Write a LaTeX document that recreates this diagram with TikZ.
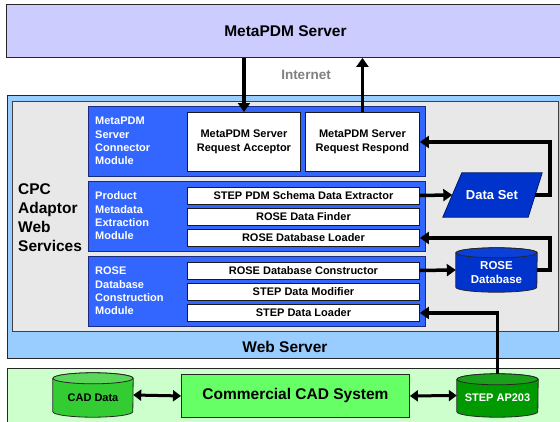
\documentclass[tikz,border=0pt]{standalone}
\usepackage{fontspec}
\setmainfont{Liberation Sans}
\usetikzlibrary{arrows.meta,calc}
\definecolor{srvfill}{HTML}{CCCCFF}
\definecolor{webfill}{HTML}{99CCFF}
\definecolor{grayfill}{HTML}{E8E8E8}
\definecolor{modfill}{HTML}{3366FF}
\definecolor{modline}{HTML}{1A2A80}
\definecolor{dsfill}{HTML}{0033CC}
\definecolor{dsline}{HTML}{001A66}
\definecolor{rosetop}{HTML}{0A3FD8}
\definecolor{greenbg}{HTML}{CCFFCC}
\definecolor{cadbody}{HTML}{33CC33}
\definecolor{cadtop}{HTML}{5AD65A}
\definecolor{ccsfill}{HTML}{66FF66}
\definecolor{stepbody}{HTML}{009900}
\definecolor{steptop}{HTML}{1AA01A}
\definecolor{netgray}{HTML}{808080}
\newcommand\mycyl[5]{% name, body, top, ry, rx
  \path[draw=black!85, line width=0.8pt, fill=#2]
    ($(#1.north west)+(0,#4)$) -- ($(#1.south west)+(0,-#4)$)
    arc[start angle=180, end angle=360, x radius=#5pt, y radius=#4pt]
    -- ($(#1.north east)+(0,#4)$)
    arc[start angle=0, end angle=180, x radius=#5pt, y radius=#4pt] -- cycle;
  \path[draw=black!85, line width=0.8pt, fill=#3]
    ($(#1.north)+(0,#4)$) ellipse[x radius=#5pt, y radius=#4pt];
}
\tikzset{
  box/.style={draw=black!85, line width=0.9pt, inner sep=0pt, anchor=north west},
  modbox/.style={box, fill=modfill, draw=modline, minimum width=337pt, minimum height=70pt},
  subbox/.style={box, fill=white, draw=black!90, minimum width=232pt, minimum height=17pt,
    font=\bfseries\fontsize{11}{13}\selectfont},
  modlabel/.style={anchor=west, align=left, text=white, inner sep=0pt,
    font=\bfseries\fontsize{11}{13.3}\selectfont},
  cylnode/.style={inner sep=0pt, draw=none},
  arr/.style={line width=3.5pt, -{Triangle[length=9pt,width=12pt]}},
  darr/.style={line width=3pt, {Triangle[length=8pt,width=11pt]}-{Triangle[length=8pt,width=11pt]}},
}
\begin{document}
\begin{tikzpicture}[x=1pt,y=-1pt]
\useasboundingbox (0,0) rectangle (560,421);
\clip (0,0) rectangle (560,421);
% top server
\node[box, fill=srvfill, minimum width=558pt, minimum height=53pt,
  font=\bfseries\fontsize{15.5}{18}\selectfont] (server) at (6,4) {MetaPDM Server};
\node[text=netgray, inner sep=0pt, font=\bfseries\fontsize{13.5}{15}\selectfont] (internet) at (306,75) {Internet};
% web server
\node[box, fill=webfill, minimum width=557pt, minimum height=263pt] (websrv) at (7,95) {};
\node[inner sep=0pt, font=\bfseries\fontsize{15.5}{18}\selectfont] (weblabel) at (285,347) {Web Server};
\node[box, fill=grayfill, draw=black!75, minimum width=546pt, minimum height=230pt] (gray) at (12,101) {};
\node[anchor=west, align=left, inner sep=0pt, font=\bfseries\fontsize{15.5}{19}\selectfont] (cpc) at (18,217.5)
  {CPC\\Adaptor\\Web\\Services};
% modules
\node[modbox] (mod1) at (88,106) {};
\node[modbox] (mod2) at (88,181) {};
\node[modbox] (mod3) at (88,256) {};
\node[modlabel] (lab1) at (95,141) {MetaPDM\\Server\\Connector\\Module};
\node[modlabel] (lab2) at (95,216) {Product\\Metadata\\Extraction\\Module};
\node[modlabel] (lab3) at (95,291) {ROSE\\Database\\Construction\\Module};
\node[box, fill=white, draw=black!90, minimum width=113pt, minimum height=59pt, align=center,
  font=\bfseries\fontsize{11}{14}\selectfont] (acc) at (187,112) {MetaPDM Server\\Request Acceptor};
\node[box, fill=white, draw=black!90, minimum width=114pt, minimum height=59pt, align=center,
  font=\bfseries\fontsize{11}{14}\selectfont] (resp) at (305,112) {MetaPDM Server\\Request Respond};
\node[subbox] (ext) at (187,186.5) {STEP PDM Schema Data Extractor};
\node[subbox] (finder) at (187,207.5) {ROSE Data Finder};
\node[subbox] (loader) at (187,229) {ROSE Database Loader};
\node[subbox] (cons) at (187,261.5) {ROSE Database Constructor};
\node[subbox] (modif) at (187,282.5) {STEP Data Modifier};
\node[subbox] (sload) at (187,304) {STEP Data Loader};
% data set
\node[cylnode, minimum width=82.5pt, minimum height=44pt] (ds) at (493.75,195) {};
\path[draw=dsline, line width=0.8pt, fill=dsfill]
  ($(ds.north west)+(9.5,0)$) -- ($(ds.north east)+(7,0)$) --
  ($(ds.south east)+(-7,0)$) -- ($(ds.south west)+(-9.5,0)$) -- cycle;
\node[text=white, inner sep=0pt, font=\bfseries\fontsize{13}{15}\selectfont] (dstxt) at (492,195) {Data Set};
% rose database
\node[cylnode, minimum width=81pt, minimum height=44pt] (rose) at (496.5,270) {};
\mycyl{rose}{dsfill}{rosetop}{5}{40.5}
\node[text=white, align=center, inner sep=0pt, font=\bfseries\fontsize{11.5}{13.5}\selectfont] (rosetxt) at (496.5,272.5) {ROSE\\Database};
% bottom
\node[box, fill=greenbg, minimum width=557pt, minimum height=60pt] (green) at (7,368) {};
\node[box, fill=ccsfill, minimum width=228pt, minimum height=43pt,
  font=\bfseries\fontsize{15.5}{18}\selectfont] (ccs) at (181,374) {Commercial CAD System};
\node[cylnode, minimum width=80pt, minimum height=44pt] (cad) at (93,395) {};
\mycyl{cad}{cadbody}{cadtop}{5.5}{40}
\node[inner sep=0pt, font=\bfseries\fontsize{11}{13}\selectfont] (cadtxt) at (93,398) {CAD Data};
\node[cylnode, minimum width=81pt, minimum height=43pt] (step) at (497.5,395.5) {};
\mycyl{step}{stepbody}{steptop}{5.5}{40.5}
\node[text=white, inner sep=0pt, font=\bfseries\fontsize{11}{13}\selectfont] (steptxt) at (497.5,397.5) {STEP AP203};
% connectors
\draw[arr] (acc.north |- server.south) -- (acc.north);
\draw[arr] (resp.north) -- (resp.north |- server.south);
\draw[arr] (ext.east) -- (ds.west);
\draw[arr] (ds.east) -- ++(15,0) |- (resp.east);
\draw[arr] (cons.east) -- (rose.west);
\draw[arr] (rose.east) -- ++(13,0) |- (loader.east);
\draw[arr] (step.north) |- (sload.east);
\draw[darr] (cad.east) -- (ccs.west);
\draw[darr] (ccs.east) -- (step.west);
\end{tikzpicture}
\end{document}
